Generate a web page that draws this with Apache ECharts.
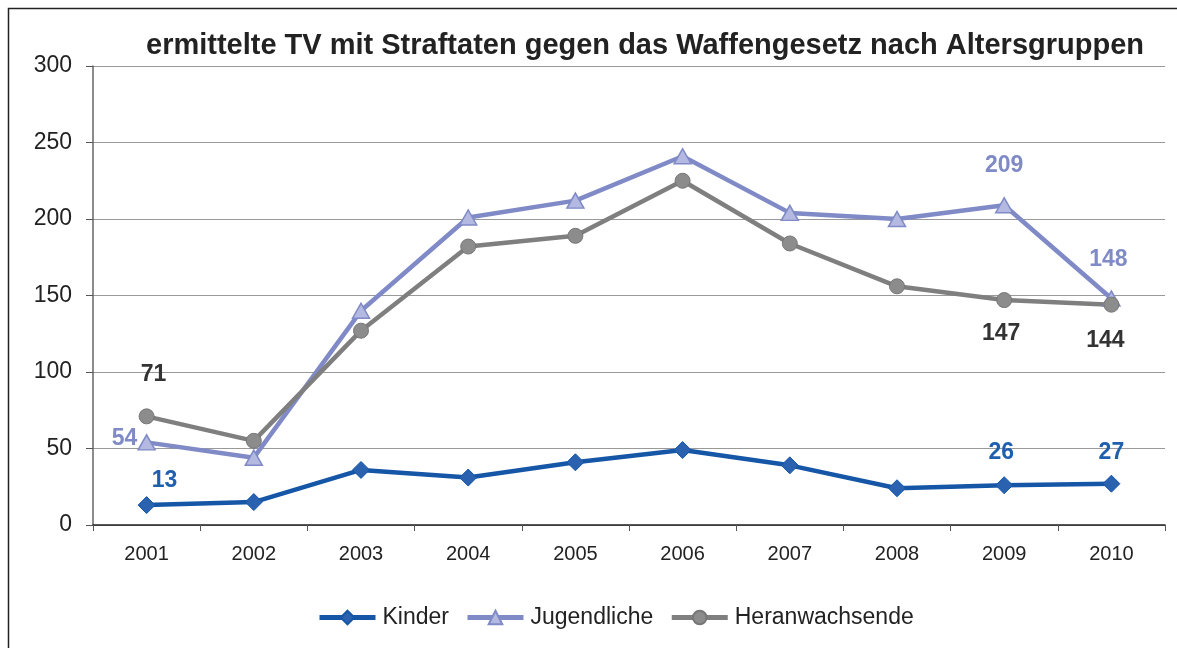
<!DOCTYPE html>
<html><head><meta charset="utf-8">
<script src="https://cdn.jsdelivr.net/npm/echarts@6/dist/echarts.min.js"></script>
<style>html,body{margin:0;padding:0;background:#fff}#c{width:1177px;height:648px}</style>
</head><body><div id="c"></div>
<script>
const years = ['2001','2002','2003','2004','2005','2006','2007','2008','2009','2010'];
const kinder = [13, 15, 36, 31, 41, 49, 39, 24, 26, 27];
const jugendliche = [54, 44, 140, 201, 212, 241, 204, 200, 209, 148];
const heranwachsende = [71, 55, 127, 182, 189, 225, 184, 156, 147, 144];
const yTicks = [0, 50, 100, 150, 200, 250, 300];

const FF = 'Liberation Sans, Arial, sans-serif';
const lblFont = {fontFamily:FF, fontSize:23, fontWeight:'bold'};
function withLabels(vals, cfg, color){
  return vals.map((v,i)=>{
    const c = cfg[i];
    if(!c) return v;
    return {value:v, label:Object.assign({show:true, color:color, formatter:'{c}'}, lblFont, c)};
  });
}
const chart = echarts.init(document.getElementById('c'));
chart.setOption({
  animation:false,
  backgroundColor:'#fff',
  graphic:[{type:'rect', shape:{x:8.5,y:8.5,width:1200,height:700}, style:{fill:'none', stroke:'#222', lineWidth:1.5}, silent:true}],
  title:{text:'ermittelte TV mit Straftaten gegen das Waffengesetz nach Altersgruppen', left:640, textAlign:'center', top:26,
    textStyle:{fontFamily:FF, fontSize:29, fontWeight:'bold', color:'#222'}},
  grid:{left:93, right:12, top:66, bottom:123, containLabel:false},
  legend:{top:601, left:312, itemWidth:56, itemHeight:17, itemGap:16,
    lineStyle:{width:5},
    textStyle:{fontFamily:FF, fontSize:23, color:'#222', padding:[0,0,0,2]},
    data:[{name:'Kinder', lineStyle:{width:5}},{name:'Jugendliche', lineStyle:{width:5}},{name:'Heranwachsende', lineStyle:{width:5}}]},
  xAxis:{type:'category', data:years, boundaryGap:true,
    axisLine:{lineStyle:{color:'#222', width:1.5}},
    axisTick:{show:true, length:6, lineStyle:{color:'#555'}},
    axisLabel:{fontFamily:FF, fontSize:20, color:'#222', margin:19}},
  yAxis:{type:'value', min:yTicks[0], max:yTicks[yTicks.length-1], interval:50,
    axisLine:{show:true, lineStyle:{color:'#666', width:1.5}},
    axisTick:{show:true, length:7, lineStyle:{color:'#555'}},
    splitLine:{lineStyle:{color:'#999', width:1}},
    axisLabel:{fontFamily:FF, fontSize:23, color:'#222', margin:21}},
  series:[
    {name:'Kinder', type:'line', data:withLabels(kinder, {0:{position:'top', offset:[18,1]}, 8:{position:'top', offset:[-3,-7]}, 9:{position:'top', offset:[0,-6]}}, '#1f5fae'),
      symbol:'diamond', symbolSize:[17,17], showAllSymbol:true,
      lineStyle:{color:'#1656a6', width:4.5}, itemStyle:{color:'#2a62b0', borderColor:'#1656a6', borderWidth:1},
      label:{show:false}},
    {name:'Jugendliche', type:'line', data:withLabels(jugendliche, {0:{position:'left', offset:[5,-4]}, 8:{position:'top', offset:[0,-15]}, 9:{position:'top', offset:[-3,-14]}}, '#7f8ac6'),
      symbol:'triangle', symbolSize:[17,15], showAllSymbol:true,
      lineStyle:{color:'#7f8ac6', width:4.5}, itemStyle:{color:'#b4b9e1', borderColor:'#7f8ac6', borderWidth:1.5},
      label:{show:false}},
    {name:'Heranwachsende', type:'line', data:withLabels(heranwachsende, {0:{position:'top', offset:[7,-17]}, 8:{position:'bottom', offset:[-3,9]}, 9:{position:'bottom', offset:[-6,11]}}, '#333'),
      symbol:'circle', symbolSize:15, showAllSymbol:true,
      lineStyle:{color:'#7f7f7f', width:4.5}, itemStyle:{color:'#8c8c8c', borderColor:'#777', borderWidth:1},
      label:{show:false}}
  ]
});
</script></body></html>
